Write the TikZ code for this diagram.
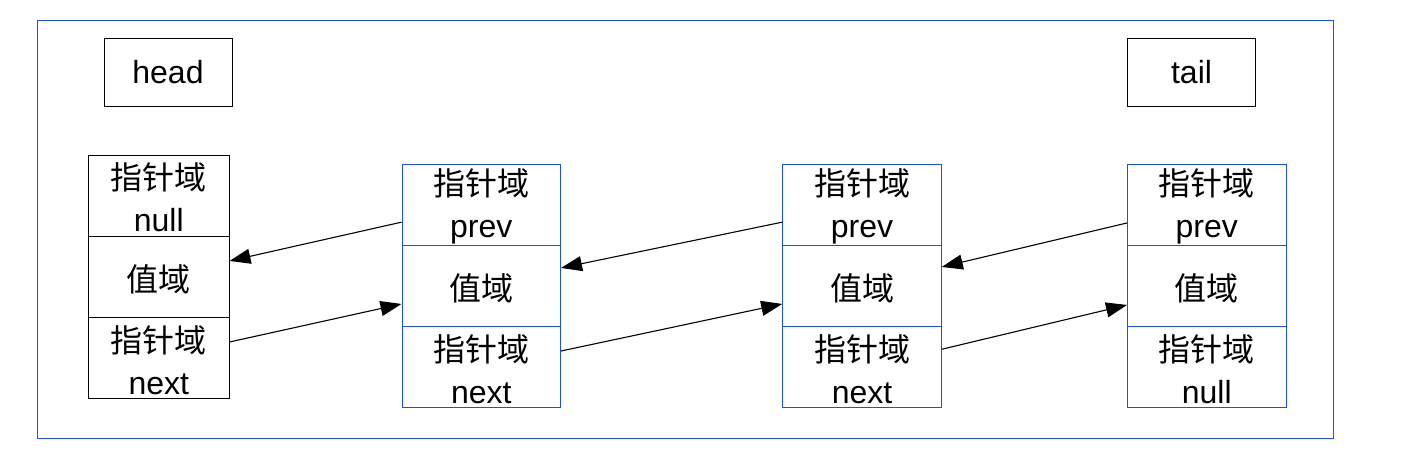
\documentclass[tikz,border=0pt]{standalone}
\usepackage{fontspec}
\setmainfont{Liberation Sans}
\newfontfamily\cjk{Noto Sans CJK SC}
\usetikzlibrary{arrows.meta,calc}
\definecolor{bblue}{RGB}{25,75,255}
\tikzset{
  cellbox/.style={draw, line width=1pt, inner sep=0pt, minimum height=81.3pt},
  blk/.style={cellbox, draw=black, minimum width=140.5pt},
  blu/.style={cellbox, draw=bblue, minimum width=158.5pt},
  two/.style={label={[inner sep=0pt, align=center, font=\fontsize{32}{42}\selectfont, yshift=-2pt]center:#1}},
  one/.style={label={[inner sep=0pt, align=center, font=\fontsize{32}{42}\selectfont, yshift=-2pt]center:#1}},
  labbox/.style={draw, line width=1pt, minimum width=128pt, minimum height=68pt, inner sep=0pt,
    font=\fontsize{32}{36}\selectfont},
  conn/.style={draw=black, line width=1.1pt, -{Triangle[length=21pt,width=15pt]}}
}
\begin{document}
\begin{tikzpicture}[x=1pt,y=-1pt]
\useasboundingbox (0,0) rectangle (1418,472);
\node[draw=bblue, line width=1pt, minimum width=1296.5pt, minimum height=418pt, inner sep=0pt] (outer) at (685.25,229.5) {};
\node[labbox] (head) at (168,72) {head};
\node[labbox] (tail) at (1191.5,72) {tail};
% node 1
\node[blk, two={{\cjk 指针域}\\null}] (n1a) at (158.75,195.65) {};
\node[blk, one={\cjk 值域}] (n1b) at (158.75,276.95) {};
\node[blk, two={{\cjk 指针域}\\next}] (n1c) at (158.75,358.25) {};
% node 2
\node[blu, two={{\cjk 指针域}\\prev}] (n2a) at (481.25,204.65) {};
\node[blu, one={\cjk 值域}] (n2b) at (481.25,285.95) {};
\node[blu, two={{\cjk 指针域}\\next}] (n2c) at (481.25,367.25) {};
% node 3
\node[blu, two={{\cjk 指针域}\\prev}] (n3a) at (862,204.65) {};
\node[blu, one={\cjk 值域}] (n3b) at (862,285.95) {};
\node[blu, two={{\cjk 指针域}\\next}] (n3c) at (862,367.25) {};
% node 4
\node[blu, two={{\cjk 指针域}\\prev}] (n4a) at (1206.75,204.65) {};
\node[blu, one={\cjk 值域}] (n4b) at (1206.75,285.95) {};
\node[blu, two={{\cjk 指针域}\\null}] (n4c) at (1206.75,367.25) {};
% connectors
\draw[conn] ([yshift=-17.5pt]n2a.west) -- ([yshift=16pt]n1b.east);
\draw[conn] ([yshift=16.25pt]n1c.east) -- ([yshift=-18pt]n2b.west);
\draw[conn] ([yshift=-17.5pt]n3a.west) -- ([yshift=18pt]n2b.east);
\draw[conn] ([yshift=16.25pt]n2c.east) -- ([yshift=-18pt]n3b.west);
\draw[conn] ([yshift=-18.3pt]n4a.west) -- ([yshift=19pt]n3b.east);
\draw[conn] ([yshift=18pt]n3c.east) -- ([yshift=-19pt]n4b.west);
\end{tikzpicture}
\end{document}
